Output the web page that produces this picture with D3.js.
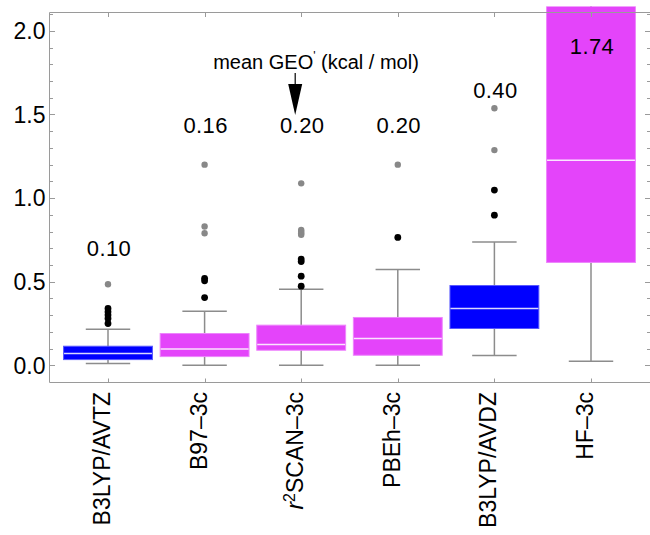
<!DOCTYPE html>
<html>
<head>
<meta charset="utf-8">
<script src="https://cdn.jsdelivr.net/npm/d3@7"></script>
<style>
  body { margin: 0; background: #fff; }
  svg { display: block; font-family: "Liberation Sans", Arial, sans-serif; }
</style>
</head>
<body>
<svg id="chart" width="650" height="535"></svg>
<script>
// Methods compared, in plotting order
const methods = ["B3LYP/AVTZ", "B97–3c", "r2SCAN–3c", "PBEh–3c", "B3LYP/AVDZ", "HF–3c"];
// Method family: augmented Dunning basis vs. "3c" composite scheme
const family = ["basis", "composite", "composite", "composite", "basis", "composite"];

// Box-and-whisker statistics of the GEO' error (kcal/mol)
const whiskerLow  = [0.010, 0.000, 0.000, 0.000, 0.058, 0.024];
const quartile1   = [0.034, 0.052, 0.090, 0.060, 0.220, 0.615];
const medianValue = [0.070, 0.098, 0.124, 0.160, 0.340, 1.226];
const quartile3   = [0.114, 0.190, 0.240, 0.286, 0.477, 2.600];
const whiskerHigh = [0.216, 0.323, 0.455, 0.573, 0.737, 4.200];

// Outliers: near (black) and far (grey)
const nearOutliers = [
  [0.25, 0.28, 0.30, 0.32, 0.34],
  [0.405, 0.505, 0.52],
  [0.473, 0.533, 0.62, 0.635],
  [0.765],
  [0.898, 1.048],
  []
];
const farOutliers = [
  [0.485],
  [0.79, 0.83, 1.20],
  [0.78, 0.79, 0.80, 0.81, 1.088],
  [1.20],
  [1.287, 1.537],
  []
];

// Mean GEO' per method and the height at which it is written
const meanGEO = [0.10, 0.16, 0.20, 0.20, 0.40, 1.74];
const meanLabelAt = [0.654, 1.39, 1.39, 1.39, 1.60, 1.863];

// Axis ticks
const majorTicks = [0.0, 0.5, 1.0, 1.5, 2.0];
const minorTicks = d3.range(0, 22).map(i => i / 10).filter(v => !majorTicks.some(m => Math.abs(m - v) < 1e-9));

const svg = d3.select("#chart");
const frame = { left: 49.5, right: 650.5, top: 12.5, bottom: 382 };

const x = d3.scalePoint().domain(methods).range([59.7, 639.3]).padding(0.5);
const step = x.step();
const boxW = step * 0.92;
const y = d3.scaleLinear().domain([-0.1, 2.11]).range([frame.bottom, frame.top]);

const colour = d3.scaleOrdinal().domain(["basis", "composite"]).range(["#0000ff", "#e444fa"]);

const axisGrey = "#9a9a9a";
const whiskerGrey = "#8c8c8c";

// Boxes may spill a little above the frame before being clipped
svg.append("defs").append("clipPath").attr("id", "plotClip")
  .append("rect")
  .attr("x", frame.left).attr("y", frame.top - 6)
  .attr("width", frame.right - frame.left).attr("height", frame.bottom - frame.top + 6);

const rows = methods.map((m, i) => ({
  m, fam: family[i], lo: whiskerLow[i], q1: quartile1[i], med: medianValue[i],
  q3: quartile3[i], hi: whiskerHigh[i], near: nearOutliers[i], far: farOutliers[i],
  mean: meanGEO[i], labelAt: meanLabelAt[i]
}));

const plot = svg.append("g").attr("clip-path", "url(#plotClip)");

const g = plot.selectAll("g.box").data(rows).join("g").attr("class", "box")
  .attr("transform", d => `translate(${x(d.m)},0)`);

// whisker stems
g.append("line").attr("x1", 0).attr("x2", 0)
  .attr("y1", d => y(d.lo)).attr("y2", d => y(d.hi))
  .attr("stroke", whiskerGrey).attr("stroke-width", 1.5);
// whisker caps
["lo", "hi"].forEach(k => {
  g.append("line").attr("x1", -boxW / 4).attr("x2", boxW / 4)
    .attr("y1", d => y(d[k])).attr("y2", d => y(d[k]))
    .attr("stroke", whiskerGrey).attr("stroke-width", 1.5);
});
// boxes
g.append("rect")
  .attr("x", -boxW / 2).attr("width", boxW)
  .attr("y", d => y(d.q3)).attr("height", d => y(d.q1) - y(d.q3))
  .attr("fill", d => colour(d.fam))
  .attr("stroke", d => d3.interpolateRgb(colour(d.fam), "#ffffff")(0.35))
  .attr("stroke-width", 1);
// medians
g.append("line").attr("x1", -boxW / 2 + 0.5).attr("x2", boxW / 2 - 0.5)
  .attr("y1", d => y(d.med)).attr("y2", d => y(d.med))
  .attr("stroke", "#ffffff").attr("stroke-opacity", 0.85).attr("stroke-width", 1.5);
// outliers
g.selectAll("circle.near").data(d => d.near).join("circle").attr("class", "near")
  .attr("cx", 0).attr("cy", v => y(v)).attr("r", 3.4).attr("fill", "#000");
g.selectAll("circle.far").data(d => d.far).join("circle").attr("class", "far")
  .attr("cx", 0).attr("cy", v => y(v)).attr("r", 3.2).attr("fill", "#888888");

// mean labels
svg.append("g").selectAll("text").data(rows).join("text")
  .attr("x", d => x(d.m) + 1).attr("y", d => y(d.labelAt))
  .attr("text-anchor", "middle").attr("font-size", 22).attr("letter-spacing", 0.4).attr("fill", "#000")
  .text(d => d.mean.toFixed(2));

// frame
const axes = svg.append("g").attr("stroke", axisGrey).attr("fill", "none").attr("stroke-width", 1);
axes.append("line").attr("x1", frame.left).attr("x2", frame.right).attr("y1", frame.top).attr("y2", frame.top);
axes.append("line").attr("x1", frame.left).attr("x2", frame.right).attr("y1", frame.bottom + 0.5).attr("y2", frame.bottom + 0.5);
axes.append("line").attr("x1", frame.left).attr("x2", frame.left).attr("y1", frame.top).attr("y2", frame.bottom + 0.5);
axes.append("line").attr("x1", frame.right).attr("x2", frame.right).attr("y1", frame.top).attr("y2", frame.bottom + 0.5);

// y ticks on both sides
const yt = (v, len) => {
  const yy = Math.round(y(v)) + 0.5;
  axes.append("line").attr("x1", frame.left).attr("x2", frame.left + len).attr("y1", yy).attr("y2", yy);
  axes.append("line").attr("x1", frame.right).attr("x2", frame.right - len).attr("y1", yy).attr("y2", yy);
};
majorTicks.forEach(v => yt(v, 5.5));
minorTicks.forEach(v => yt(v, 3.5));

// x ticks on top and bottom
methods.forEach(m => {
  const xx = Math.round(x(m)) + 0.5;
  axes.append("line").attr("x1", xx).attr("x2", xx).attr("y1", frame.bottom + 0.5).attr("y2", frame.bottom - 3.5);
  axes.append("line").attr("x1", xx).attr("x2", xx).attr("y1", frame.top).attr("y2", frame.top + 4.5);
});

// y tick labels
svg.append("g").selectAll("text").data(majorTicks).join("text")
  .attr("x", frame.left - 4).attr("y", v => y(v)).attr("dy", "0.36em")
  .attr("text-anchor", "end").attr("font-size", 23).attr("fill", "#000")
  .text(v => v.toFixed(1));

// rotated method labels
const xl = svg.append("g").selectAll("text").data(methods).join("text")
  .attr("transform", m => `translate(${x(m) + 2},${frame.bottom + 10}) rotate(-90)`)
  .attr("text-anchor", "end").attr("font-size", 23).attr("fill", "#000");
xl.each(function (m) {
  const t = d3.select(this);
  if (m.startsWith("r2")) {
    t.append("tspan").attr("font-style", "italic").text("r");
    t.append("tspan").attr("font-size", 16).attr("dy", -8).text("2");
    t.append("tspan").attr("dy", 8).text(m.slice(2));
  } else {
    t.text(m);
  }
});

// annotation: mean GEO' with arrow to the r2SCAN column
const ann = svg.append("g");
const annX = x("r2SCAN–3c") - 6;
const at = ann.append("text").attr("x", 316).attr("y", 68.5)
  .attr("text-anchor", "middle").attr("font-size", 20).attr("fill", "#000");
at.append("tspan").text("mean GEO");
at.append("tspan").attr("font-size", 12).attr("dy", -9).text("'");
at.append("tspan").attr("dy", 9).text(" (kcal / mol)");
ann.append("line").attr("x1", annX).attr("x2", annX).attr("y1", 73).attr("y2", 88)
  .attr("stroke", "#000").attr("stroke-width", 1.2);
ann.append("path")
  .attr("d", `M${annX - 7},84 L${annX + 7},84 L${annX},115 Z`)
  .attr("fill", "#000");
</script>
</body>
</html>
